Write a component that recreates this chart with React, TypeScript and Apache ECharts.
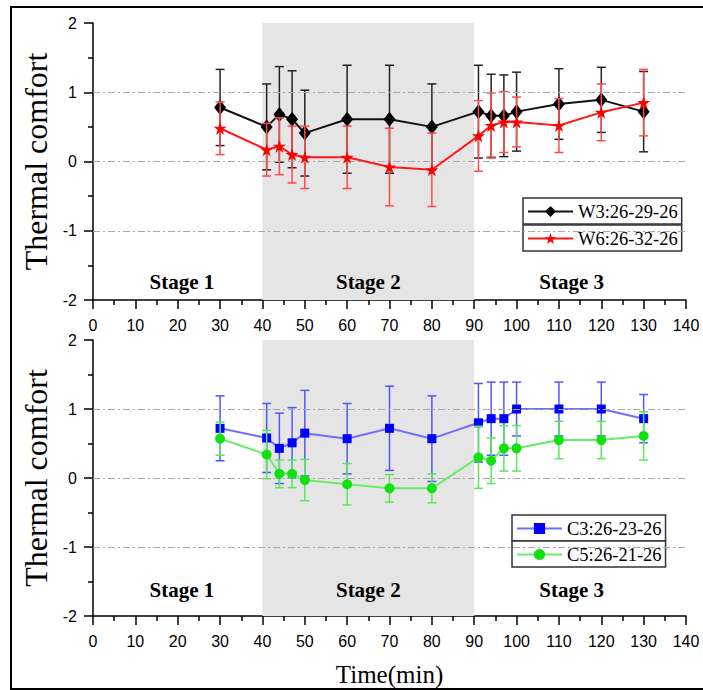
import React, { useEffect, useRef } from "react";
import * as echarts from "echarts";

const times = [30, 41, 44, 47, 50, 60, 70, 80, 91, 94, 97, 100, 110, 120, 130];

const w3Mean = [0.78, 0.5, 0.68, 0.61, 0.41, 0.61, 0.61, 0.5, 0.72, 0.66, 0.66, 0.72, 0.83, 0.89, 0.72];
const w3Err = [0.55, 0.62, 0.69, 0.7, 0.62, 0.78, 0.78, 0.62, 0.67, 0.6, 0.59, 0.57, 0.51, 0.47, 0.58];
const w6Mean = [0.48, 0.17, 0.22, 0.1, 0.06, 0.06, -0.08, -0.12, 0.37, 0.52, 0.57, 0.57, 0.52, 0.71, 0.85];
const w6Err = [0.38, 0.38, 0.41, 0.41, 0.45, 0.45, 0.56, 0.53, 0.51, 0.47, 0.44, 0.36, 0.39, 0.41, 0.48];

const c3Mean = [0.72, 0.58, 0.43, 0.51, 0.65, 0.57, 0.72, 0.57, 0.8, 0.86, 0.86, 1.0, 1.0, 1.0, 0.86];
const c3Err = [0.47, 0.5, 0.51, 0.51, 0.62, 0.51, 0.61, 0.62, 0.57, 0.53, 0.53, 0.39, 0.39, 0.39, 0.35];
const c5Mean = [0.57, 0.34, 0.06, 0.06, -0.03, -0.09, -0.15, -0.15, 0.3, 0.25, 0.43, 0.43, 0.55, 0.55, 0.61];
const c5Err = [0.24, 0.35, 0.2, 0.2, 0.3, 0.3, 0.2, 0.21, 0.45, 0.33, 0.33, 0.33, 0.27, 0.27, 0.35];

const seriesNames = ["W3:26-29-26", "W6:26-32-26", "C3:26-23-26", "C5:26-21-26"];
const stageNames = ["Stage 1", "Stage 2", "Stage 3"];
const stageX = [21, 65, 113];
const stageYTop = -1.74;
const stageYBottom = -1.63;
const stage2Range = [40, 90];
const gridLevels = [1, 0, -1];

const SERIF = "'Liberation Serif', 'Times New Roman', serif";
const SANS = "'Liberation Sans', Arial, sans-serif";
const STAR =
  "path://M50,0 L61.2,34.5 L97.6,34.5 L68.2,55.9 L79.4,90.5 L50,69.1 L20.6,90.5 L31.8,55.9 L2.4,34.5 L38.8,34.5 Z";

function pairs(v: number[]) {
  return times.map((t, i) => [t, v[i]]);
}
function errRows(v: number[], e: number[]) {
  return times.map((t, i) => [t, v[i] - e[i], v[i] + e[i]]);
}
const errRender = (color: string) => (params: any, api: any) => {
  const x = api.value(0);
  const lo = api.coord([x, api.value(1)]);
  const hi = api.coord([x, api.value(2)]);
  const c = 4.5;
  const style = { stroke: color, lineWidth: 1.5 };
  return {
    type: "group",
    children: [
      { type: "line", shape: { x1: hi[0], y1: hi[1], x2: lo[0], y2: lo[1] }, style },
      { type: "line", shape: { x1: hi[0] - c, y1: hi[1], x2: hi[0] + c, y2: hi[1] }, style },
      { type: "line", shape: { x1: lo[0] - c, y1: lo[1], x2: lo[0] + c, y2: lo[1] }, style },
    ],
  };
};

function xAxisCfg(gridIndex: number, withName: boolean) {
  return {
    type: "value",
    gridIndex,
    min: 0,
    max: 140,
    interval: 10,
    name: withName ? "Time(min)" : "",
    nameLocation: "middle",
    nameGap: 46,
    nameTextStyle: { fontFamily: SERIF, fontSize: 25, color: "#000" },
    axisLine: { show: true, onZero: false, lineStyle: { color: "#000", width: 1.5 } },
    axisTick: { show: true, length: 9, lineStyle: { color: "#000", width: 1.5 } },
    minorTick: { show: true, splitNumber: 2, length: 5, lineStyle: { color: "#000", width: 1.5 } },
    axisLabel: { fontFamily: SANS, fontSize: 16, color: "#000", margin: 17 },
    splitLine: { show: false },
    minorSplitLine: { show: false },
  };
}
function yAxisCfg(gridIndex: number) {
  return {
    type: "value",
    gridIndex,
    min: -2,
    max: 2,
    interval: 1,
    name: "Thermal comfort",
    nameLocation: "middle",
    nameGap: 40,
    nameTextStyle: { fontFamily: SERIF, fontSize: 32, color: "#000" },
    axisLine: { show: true, onZero: false, lineStyle: { color: "#000", width: 1.5 } },
    axisTick: { show: true, length: 9, lineStyle: { color: "#000", width: 1.5 } },
    minorTick: { show: true, splitNumber: 2, length: 5, lineStyle: { color: "#000", width: 1.5 } },
    axisLabel: { fontFamily: SANS, fontSize: 16, color: "#000", margin: 16 },
    splitLine: { show: false },
  };
}

const gridLineMark = {
  silent: true,
  symbol: ["none", "none"],
  label: { show: false },
  lineStyle: { color: "#a8a8a8", type: [7, 3, 2, 3], width: 1.2 },
  data: gridLevels.map((v) => ({ yAxis: v })),
};
const grayArea = {
  silent: true,
  itemStyle: { color: "#e5e5e5" },
  data: [[{ xAxis: stage2Range[0] }, { xAxis: stage2Range[1] }]],
};
function stageMarks(yv: number) {
  return {
    silent: true,
    symbol: "rect",
    symbolSize: 1,
    itemStyle: { color: "rgba(0,0,0,0)" },
    label: {
      show: true,
      position: "inside",
      formatter: "{b}",
      fontFamily: SERIF,
      fontWeight: "bold",
      fontSize: 21,
      color: "#000",
    },
    data: stageNames.map((n, i) => ({ name: n, coord: [stageX[i], yv] })),
  };
}

const legendCommon = {
  orient: "vertical",
  itemWidth: 45,
  itemHeight: 14,
  itemGap: 0,
  padding: [4, 4, 3, 4],
  borderColor: "#333",
  borderWidth: 1.5,
  backgroundColor: "#fff",
  selectedMode: false,
  textStyle: { fontFamily: SERIF, fontSize: 18.5, color: "#000" },
};

export default function App() {
  const ref = useRef<HTMLDivElement>(null);
  useEffect(() => {
    if (!ref.current) return;
    const chart = echarts.init(ref.current, undefined, { renderer: "svg" });
    chart.setOption({
      animation: false,
      backgroundColor: "#fff",
      grid: [
        { left: 93, top: 23, width: 593, height: 277 },
        { left: 93, top: 340, width: 593, height: 276 },
      ],
      xAxis: [xAxisCfg(0, false), xAxisCfg(1, true)],
      yAxis: [yAxisCfg(0), yAxisCfg(1)],
      legend: [
        { ...legendCommon, data: [seriesNames[0]], left: 523, top: 198 },
        { ...legendCommon, data: [seriesNames[1]], left: 523, top: 225 },
        { ...legendCommon, data: [seriesNames[2]], left: 512, top: 515 },
        { ...legendCommon, data: [seriesNames[3]], left: 512, top: 541 },
      ],
      graphic: [
        {
          type: "rect",
          shape: { x: 11, y: 7, width: 700, height: 682 },
          style: { fill: "none", stroke: "#000", lineWidth: 2 },
          z: 100,
          silent: true,
        },
      ],
      series: [
        {
          type: "custom",
          name: "w3err",
          xAxisIndex: 0,
          yAxisIndex: 0,
          renderItem: errRender("#222"),
          data: errRows(w3Mean, w3Err),
          markArea: grayArea,
          markLine: gridLineMark,
          markPoint: stageMarks(stageYTop),
          z: 2,
        },
        {
          type: "line",
          name: seriesNames[0],
          xAxisIndex: 0,
          yAxisIndex: 0,
          data: pairs(w3Mean),
          symbol: "diamond",
          symbolSize: [12, 15],
          lineStyle: { color: "#111", width: 2 },
          itemStyle: { color: "#000" },
          z: 3,
        },
        {
          type: "custom",
          name: "w6err",
          xAxisIndex: 0,
          yAxisIndex: 0,
          renderItem: errRender("#ff4a4a"),
          data: errRows(w6Mean, w6Err),
          z: 4,
        },
        {
          type: "line",
          name: seriesNames[1],
          xAxisIndex: 0,
          yAxisIndex: 0,
          data: pairs(w6Mean),
          symbol: STAR,
          symbolSize: 13,
          lineStyle: { color: "#ff1a1a", width: 2 },
          itemStyle: { color: "#ff0000" },
          z: 5,
        },
        {
          type: "custom",
          name: "c3err",
          xAxisIndex: 1,
          yAxisIndex: 1,
          renderItem: errRender("#5555ff"),
          data: errRows(c3Mean, c3Err),
          markArea: grayArea,
          markLine: gridLineMark,
          markPoint: stageMarks(stageYBottom),
          z: 2,
        },
        {
          type: "line",
          name: seriesNames[2],
          xAxisIndex: 1,
          yAxisIndex: 1,
          data: pairs(c3Mean),
          symbol: "rect",
          symbolSize: 9,
          lineStyle: { color: "#7070ff", width: 2 },
          itemStyle: { color: "#0000ff" },
          z: 3,
        },
        {
          type: "custom",
          name: "c5err",
          xAxisIndex: 1,
          yAxisIndex: 1,
          renderItem: errRender("#5be85b"),
          data: errRows(c5Mean, c5Err),
          z: 4,
        },
        {
          type: "line",
          name: seriesNames[3],
          xAxisIndex: 1,
          yAxisIndex: 1,
          data: pairs(c5Mean),
          symbol: "circle",
          symbolSize: 10,
          lineStyle: { color: "#66ee66", width: 2 },
          itemStyle: { color: "#11e011" },
          z: 5,
        },
      ],
    });
    return () => chart.dispose();
  }, []);
  return (
    <div
      ref={ref}
      style={{ position: "fixed", left: 0, top: 0, width: 703, height: 690 }}
    />
  );
}
